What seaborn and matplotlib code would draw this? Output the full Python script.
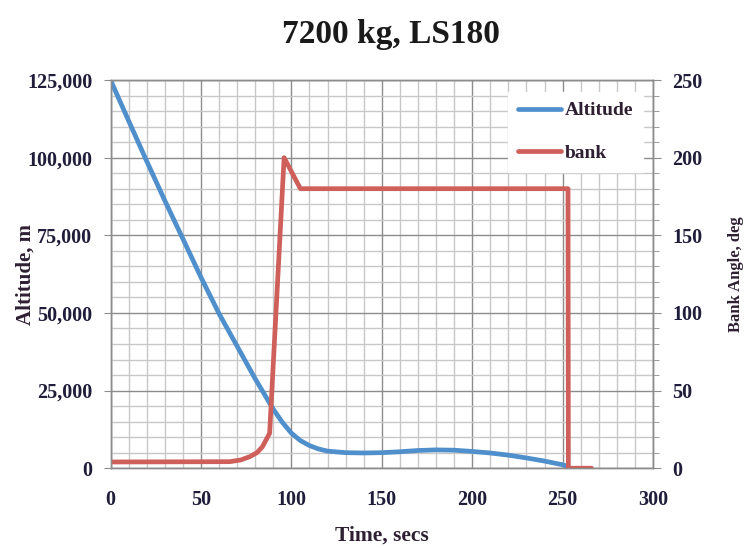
import matplotlib
matplotlib.use("Agg")
import matplotlib.pyplot as plt
import seaborn as sns
import pandas as pd
from matplotlib.ticker import MultipleLocator, FuncFormatter

# ── Data ─────────────────────────────────────────
time_alt = [0, 10, 20, 30, 40, 50, 60, 70, 80, 90, 95, 100, 105, 110,
            115, 120, 130, 140, 150, 160, 170, 180, 190, 200, 210, 220,
            230, 240, 250, 253]
altitude = [125000, 111900, 98900, 86200, 73900, 61500, 49800, 39300,
            28800, 19000, 14800, 11300, 8900, 7300, 6200, 5500, 5000,
            4900, 5000, 5300, 5700, 5900, 5800, 5400, 4900, 4200, 3300,
            2300, 1100, 600]

time_bank = [0, 66, 72, 77, 81, 84, 88, 96, 105, 253, 253.2, 266]
bank = [4, 4.2, 5.3, 7.4, 10, 13.8, 22.5, 200, 180, 180, 0, 0]

title = "7200 kg, LS180"
x_label = "Time, secs"
y_label = "Altitude, m"
y2_label = "Bank Angle, deg"

blue = "#4f8fcc"
red = "#cf5f5a"
text_col = "#1f1d3a"
label_col = "#2e1f33"

df_alt = pd.DataFrame({"t": time_alt, "alt": altitude})
df_bank = pd.DataFrame({"t": time_bank, "bank": bank})

sns.set_style("white")
plt.rcParams["font.family"] = ["Liberation Serif", "DejaVu Serif"]
plt.rcParams["font.weight"] = "bold"

fig = plt.figure(figsize=(7.44, 5.48), dpi=100)
ax = fig.add_axes([110.5 / 744, 1 - 468.2 / 548, (653 - 110.5) / 744, (468.2 - 80) / 548])
ax2 = ax.twinx()

# ── Lines ─────────────────────────────────────────
sns.lineplot(data=df_alt, x="t", y="alt", ax=ax, color=blue, lw=3.4,
             sort=False, estimator=None, label="Altitude", legend=False)
sns.lineplot(data=df_bank, x="t", y="bank", ax=ax2, color=red, lw=3.4,
             sort=False, estimator=None, label="bank", legend=False)

ax.set_xlim(0, 300)
ax.set_ylim(0, 125000)
ax2.set_ylim(0, 250)

# ── Ticks and grid ────────────────────────────────
ax.xaxis.set_major_locator(MultipleLocator(50))
ax.xaxis.set_minor_locator(MultipleLocator(10))
ax.yaxis.set_major_locator(MultipleLocator(25000))
ax.yaxis.set_minor_locator(MultipleLocator(5000))
ax2.yaxis.set_major_locator(MultipleLocator(50))
ax2.yaxis.set_minor_locator(MultipleLocator(10))
ax.yaxis.set_major_formatter(FuncFormatter(lambda v, p: f"{int(v):,}"))

ax.grid(which="major", color="#8c8c8c", lw=1.0)
ax.grid(which="minor", color="#c8c8c8", lw=1.0)
ax.set_axisbelow(True)

for a in (ax, ax2):
    for s in a.spines.values():
        s.set_color("#8c8c8c")
        s.set_linewidth(1.0)

ax.tick_params(axis="both", which="major", direction="out", length=5,
               color="#8c8c8c", labelsize=14.5, labelcolor=text_col, pad=8)
ax.tick_params(axis="both", which="minor", length=0)
ax.tick_params(axis="x", pad=11)
ax2.tick_params(axis="y", which="major", direction="out", length=6,
                color="#8c8c8c", labelsize=14.5, labelcolor=text_col, pad=8)
ax2.tick_params(axis="y", which="minor", direction="out", length=4, color="#8c8c8c")

for lab in ax.get_xticklabels() + ax.get_yticklabels() + ax2.get_yticklabels():
    lab.set_fontweight("bold")

ax.set_xlabel(x_label, fontsize=15.5, fontweight="bold", color=label_col, labelpad=11)
ax.set_ylabel(y_label, fontsize=15, fontweight="bold", color=label_col, labelpad=-6)
ax2.set_ylabel(y2_label, fontsize=12, fontweight="bold", color=label_col, labelpad=18)

fig.text(391 / 744, 1 - 34 / 548, title, ha="center", va="center",
         fontsize=24, fontweight="bold", color="#1a1a1a")

# ── Legend ────────────────────────────────────────
h1, l1 = ax.get_legend_handles_labels()
h2, l2 = ax2.get_legend_handles_labels()
leg = fig.legend(h1 + h2, l1 + l2, loc="upper left",
                 bbox_to_anchor=(508 / 744, 1 - 92 / 548),
                 frameon=True, fancybox=False, framealpha=1,
                 edgecolor="white", facecolor="white",
                 prop={"size": 14, "weight": "bold"},
                 labelspacing=1.3, handlelength=2.2, handletextpad=0.2,
                 borderpad=0.5, borderaxespad=0)
for t in leg.get_texts():
    t.set_color(label_col)

fig.savefig("out.png", dpi=100)
